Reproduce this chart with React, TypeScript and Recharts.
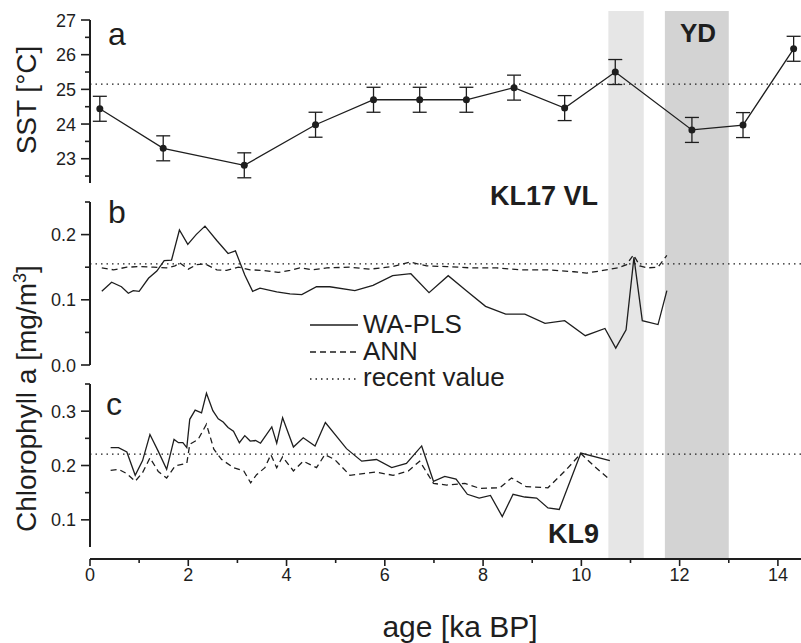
import { ComposedChart, LineChart, Line, XAxis, YAxis, ReferenceArea, ReferenceLine, ErrorBar } from "recharts";

const W = 801;
const H = 643;
const X_MAX = 14.47;
const INK = "#1e1e1e";
const FONT = "'Liberation Sans', Arial, sans-serif";

// shared age axis
const xTicks = [0, 1, 2, 3, 4, 5, 6, 7, 8, 9, 10, 11, 12, 13, 14];
const bolling = [10.55, 11.27];
const youngerDryas = [11.7, 13.0];

// a - SST
const sstAge = [0.2, 1.49, 3.14, 4.59, 5.77, 6.71, 7.66, 8.63, 9.66, 10.69, 12.25, 13.29, 14.32];
const sstVal = [24.44, 23.3, 22.81, 23.98, 24.7, 24.7, 24.7, 25.05, 24.46, 25.5, 23.83, 23.97, 26.17];
const sstErr = [0.36, 0.36, 0.36, 0.36, 0.36, 0.36, 0.36, 0.36, 0.36, 0.36, 0.36, 0.36, 0.36];
const sstRecent = 25.15;
const sstTicks = [22.5, 23, 23.5, 24, 24.5, 25, 25.5, 26, 26.5, 27];

// b - KL17 VL chlorophyll
const kl17WaAge = [0.24, 0.44, 0.64, 0.78, 0.88, 1.0, 1.19, 1.36, 1.51, 1.66, 1.82, 1.99, 2.16, 2.34, 2.58, 2.81, 2.96, 3.15, 3.31, 3.46, 3.8, 4.07, 4.31, 4.61, 4.88, 5.39, 5.76, 6.16, 6.53, 6.9, 7.29, 7.66, 8.05, 8.46, 8.85, 9.26, 9.66, 10.08, 10.48, 10.7, 10.91, 11.07, 11.24, 11.56, 11.74];
const kl17WaVal = [0.113, 0.127, 0.12, 0.11, 0.114, 0.113, 0.133, 0.144, 0.16, 0.161, 0.207, 0.185, 0.2, 0.213, 0.191, 0.171, 0.175, 0.138, 0.113, 0.118, 0.112, 0.109, 0.108, 0.12, 0.12, 0.114, 0.122, 0.137, 0.14, 0.111, 0.137, 0.114, 0.09, 0.078, 0.078, 0.064, 0.068, 0.045, 0.056, 0.026, 0.054, 0.165, 0.068, 0.062, 0.114];
const kl17AnnAge = [0.24, 0.48, 0.75, 1.02, 1.29, 1.56, 1.73, 1.82, 2.0, 2.17, 2.34, 2.58, 2.78, 3.02, 3.26, 3.53, 3.83, 4.07, 4.27, 4.54, 4.82, 5.29, 5.7, 6.17, 6.51, 6.85, 7.26, 7.73, 8.27, 8.75, 9.29, 9.85, 10.11, 10.44, 10.75, 10.92, 11.06, 11.19, 11.34, 11.56, 11.74];
const kl17AnnVal = [0.149, 0.146, 0.15, 0.151, 0.15, 0.149, 0.152, 0.157, 0.147, 0.154, 0.155, 0.146, 0.145, 0.15, 0.146, 0.145, 0.142, 0.145, 0.149, 0.146, 0.149, 0.15, 0.147, 0.151, 0.158, 0.152, 0.151, 0.149, 0.149, 0.146, 0.146, 0.143, 0.141, 0.145, 0.149, 0.154, 0.169, 0.152, 0.149, 0.15, 0.168];
const kl17Recent = 0.155;
const kl17Ticks = [0, 0.05, 0.1, 0.15, 0.2, 0.25];

// c - KL9 chlorophyll
const kl9WaAge = [0.42, 0.58, 0.75, 0.92, 1.07, 1.22, 1.39, 1.56, 1.71, 1.8, 1.89, 1.97, 2.03, 2.14, 2.27, 2.37, 2.5, 2.61, 2.71, 2.81, 2.92, 3.04, 3.15, 3.26, 3.37, 3.47, 3.7, 3.8, 3.92, 4.14, 4.34, 4.58, 4.79, 5.22, 5.53, 5.83, 6.14, 6.44, 6.75, 6.99, 7.22, 7.45, 7.68, 7.92, 8.15, 8.39, 8.61, 8.85, 9.09, 9.32, 9.55, 9.99, 10.58];
const kl9WaVal = [0.233, 0.233, 0.225, 0.182, 0.209, 0.257, 0.226, 0.193, 0.248, 0.242, 0.242, 0.233, 0.285, 0.302, 0.297, 0.333, 0.301, 0.286, 0.28, 0.27, 0.263, 0.242, 0.255, 0.245, 0.246, 0.241, 0.271, 0.241, 0.288, 0.234, 0.251, 0.236, 0.279, 0.231, 0.208, 0.211, 0.196, 0.204, 0.236, 0.171, 0.18, 0.175, 0.147, 0.14, 0.145, 0.106, 0.147, 0.142, 0.14, 0.122, 0.119, 0.223, 0.209];
const kl9AnnAge = [0.42, 0.58, 0.75, 0.92, 1.07, 1.22, 1.39, 1.56, 1.73, 1.87, 1.97, 2.03, 2.2, 2.37, 2.52, 2.68, 2.92, 3.13, 3.27, 3.39, 3.56, 3.68, 3.8, 3.92, 4.14, 4.34, 4.61, 4.78, 4.98, 5.29, 5.8, 6.17, 6.48, 6.71, 6.99, 7.26, 7.63, 7.93, 8.34, 8.58, 8.88, 9.32, 9.7, 9.99, 10.27, 10.58];
const kl9AnnVal = [0.191, 0.193, 0.185, 0.171, 0.187, 0.214, 0.189, 0.177, 0.199, 0.202, 0.204, 0.239, 0.248, 0.276, 0.23, 0.211, 0.196, 0.19, 0.168, 0.183, 0.196, 0.22, 0.196, 0.216, 0.19, 0.208, 0.196, 0.22, 0.211, 0.182, 0.188, 0.182, 0.19, 0.208, 0.167, 0.164, 0.167, 0.158, 0.159, 0.177, 0.161, 0.159, 0.193, 0.222, 0.198, 0.174];
const kl9Recent = 0.221;
const kl9Ticks = [0.1, 0.15, 0.2, 0.25, 0.3, 0.35];

const zip = (ages: number[], vals: number[]) => ages.map((age, i) => ({ age, val: vals[i] }));

const sstData = sstAge.map((age, i) => ({ age, val: sstVal[i], err: sstErr[i] }));
const frame = [{ age: 0, y: 0 }, { age: X_MAX, y: 1 }];

const XTick = ({ x, y, payload }: any) => {
  const major = payload.value % 2 === 0;
  return (
    <g>
      <line x1={x} x2={x} y1={559} y2={559 + (major ? 7 : 4)} stroke={INK} strokeWidth={1.6} />
      {major && (
        <text x={x} y={581} textAnchor="middle" fontSize={18} fontFamily={FONT} fill={INK}>
          {payload.value}
        </text>
      )}
    </g>
  );
};

const makeYTick = (majors: number[], digits: number) => ({ y, payload }: any) => {
  const major = majors.some((m) => Math.abs(m - payload.value) < 1e-6);
  return (
    <g>
      <line x1={major ? 81 : 85} x2={90} y1={y} y2={y} stroke={INK} strokeWidth={1.6} />
      {major && (
        <text x={76} y={y} dy={6.5} textAnchor="end" fontSize={18} fontFamily={FONT} fill={INK}>
          {payload.value.toFixed(digits)}
        </text>
      )}
    </g>
  );
};

const SstTick = makeYTick([23, 24, 25, 26, 27], 0);
const Kl17Tick = makeYTick([0, 0.1, 0.2], 1);
const Kl9Tick = makeYTick([0.1, 0.2, 0.3], 1);

const layer: any = { position: "absolute", left: 0, top: 0 };
const lineStyle = { stroke: INK, strokeWidth: 1.3 };

function Panel({ top, bottom, domain, ticks, tick, recent, children }: any) {
  return (
    <div style={layer}>
      <LineChart width={W} height={H} margin={{ top, right: 0, bottom: H - bottom, left: 0 }}>
        <XAxis type="number" dataKey="age" domain={[0, X_MAX]} allowDataOverflow hide />
        <YAxis
          type="number"
          width={90}
          domain={domain}
          ticks={ticks}
          tick={tick}
          tickLine={false}
          interval={0}
          allowDataOverflow
          axisLine={{ stroke: INK, strokeWidth: 2 }}
        />
        <ReferenceLine y={recent} stroke={INK} strokeWidth={1.2} strokeDasharray="1.5 4" />
        {children}
      </LineChart>
    </div>
  );
}

export default function App() {
  return (
    <div style={{ position: "absolute", left: 0, top: 0, width: W, height: H, overflow: "hidden", background: "#fff" }}>
      {/* shading + age axis */}
      <div style={layer}>
        <ComposedChart width={W} height={H} data={frame} margin={{ top: 11, right: 0, bottom: H - 559 - 30, left: 90 }}>
          <XAxis
            type="number"
            dataKey="age"
            height={30}
            domain={[0, X_MAX]}
            ticks={xTicks}
            interval={0}
            tick={<XTick />}
            tickLine={false}
            allowDataOverflow
            axisLine={{ stroke: INK, strokeWidth: 2 }}
          />
          <YAxis hide domain={[0, 1]} />
          <ReferenceArea x1={bolling[0]} x2={bolling[1]} y1={0} y2={1} fill="#e6e6e6" fillOpacity={1} stroke="none" />
          <ReferenceArea x1={youngerDryas[0]} x2={youngerDryas[1]} y1={0} y2={1} fill="#d3d3d3" fillOpacity={1} stroke="none" />
          <Line dataKey="y" stroke="none" dot={false} activeDot={false} isAnimationActive={false} />
        </ComposedChart>
      </div>

      <Panel top={20} bottom={183} domain={[22.3, 27]} ticks={sstTicks} tick={<SstTick />} recent={sstRecent}>
        <Line
          data={sstData}
          dataKey="val"
          type="linear"
          {...lineStyle}
          dot={{ r: 3.5, fill: INK, stroke: INK, strokeWidth: 0 }}
          isAnimationActive={false}
        >
          <ErrorBar dataKey="err" direction="y" width={7} stroke={INK} strokeWidth={1.3} />
        </Line>
      </Panel>

      <Panel top={202} bottom={365} domain={[0, 0.25]} ticks={kl17Ticks} tick={<Kl17Tick />} recent={kl17Recent}>
        <Line data={zip(kl17AnnAge, kl17AnnVal)} dataKey="val" type="linear" {...lineStyle} strokeDasharray="6 4" dot={false} isAnimationActive={false} />
        <Line data={zip(kl17WaAge, kl17WaVal)} dataKey="val" type="linear" {...lineStyle} dot={false} isAnimationActive={false} />
      </Panel>

      <Panel top={384} bottom={547} domain={[0.05, 0.35]} ticks={kl9Ticks} tick={<Kl9Tick />} recent={kl9Recent}>
        <Line data={zip(kl9AnnAge, kl9AnnVal)} dataKey="val" type="linear" {...lineStyle} strokeDasharray="6 4" dot={false} isAnimationActive={false} />
        <Line data={zip(kl9WaAge, kl9WaVal)} dataKey="val" type="linear" {...lineStyle} dot={false} isAnimationActive={false} />
      </Panel>

      {/* labels, titles, legend */}
      <svg width={W} height={H} style={layer} fontFamily={FONT} fill={INK}>
        <text x={36} y={100} fontSize={28} textAnchor="middle" transform="rotate(-90 36 100)">SST [°C]</text>
        <text x={36} y={532} fontSize={28} textAnchor="start" transform="rotate(-90 36 532)">
          Chlorophyll a [mg/m<tspan dy={-10} fontSize={18}>3</tspan><tspan dy={10}>]</tspan>
        </text>
        <text x={460} y={637} fontSize={30} textAnchor="middle">age [ka BP]</text>

        <text x={108} y={45} fontSize={32}>a</text>
        <text x={108} y={223} fontSize={32}>b</text>
        <text x={106} y={415} fontSize={32}>c</text>

        <text x={680} y={42} fontSize={26} fontWeight="bold">YD</text>
        <text x={490} y={205} fontSize={27} fontWeight="bold">KL17 VL</text>
        <text x={548} y={543} fontSize={27} fontWeight="bold">KL9</text>

        <line x1={310} x2={358} y1={325} y2={325} stroke={INK} strokeWidth={1.3} />
        <line x1={310} x2={358} y1={352} y2={352} stroke={INK} strokeWidth={1.3} strokeDasharray="6 4" />
        <line x1={310} x2={358} y1={379} y2={379} stroke={INK} strokeWidth={1.3} strokeDasharray="1.5 4" />
        <text x={363} y={333} fontSize={26}>WA-PLS</text>
        <text x={363} y={360} fontSize={26}>ANN</text>
        <text x={363} y={386} fontSize={26}>recent value</text>
      </svg>
    </div>
  );
}
